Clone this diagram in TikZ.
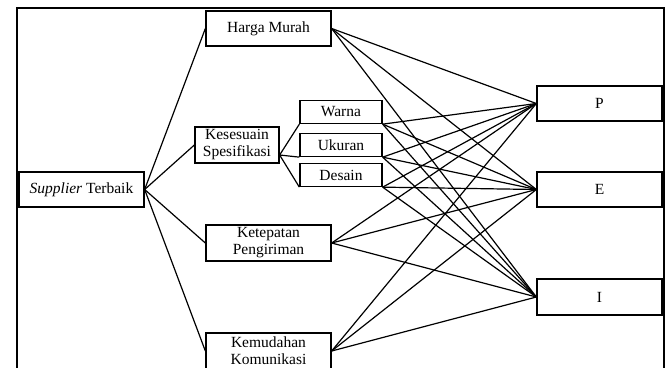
\documentclass[tikz,border=0pt]{standalone}
\usepackage{fontspec}
\setmainfont{Liberation Serif}
\begin{document}
\begin{tikzpicture}[x=1pt,y=-1pt,
  box/.style={draw,line width=1.3pt,inner sep=0pt,align=center,font=\fontsize{15.5}{17}\selectfont},
  big/.style={box,minimum width=125pt,minimum height=35pt},
  small/.style={box,minimum width=82pt,minimum height=23pt},
  conn/.style={line width=1.2pt}]
\useasboundingbox (0,0) rectangle (672,367);
\clip (0,0) rectangle (672,367);
\draw[line width=1.2pt] (17,8) rectangle (664,390);
\node[big] (harga) at (268.5,28.5) {Harga Murah};
\node[box,minimum width=84pt,minimum height=36pt] (kes) at (237,145) {Kesesuain\\Spesifikasi};
\node[small] (warna) at (341,112) {Warna};
\node[small] (ukuran) at (341,145) {Ukuran};
\node[small] (desain) at (341,175) {Desain};
\node[big] (sup) at (81.5,189.5) {\textit{Supplier} Terbaik};
\node[big,minimum height=36pt] (tepat) at (268.5,243) {Ketepatan\\Pengiriman};
\node[big,minimum height=36pt] (mudah) at (268.5,351) {Kemudahan\\Komunikasi};
\node[big] (P) at (599.5,103.5) {P};
\node[big] (E) at (599.5,189.5) {E};
\node[big,minimum height=36pt] (I) at (599.5,297) {I};
\coordinate (kesout) at ([yshift=-10pt]kes.east);
\foreach \t in {harga,kes,tepat,mudah}
  \draw[conn] (sup.east) -- (\t.west);
\foreach \t in {warna,ukuran,desain}
  \draw[conn] (kesout) -- (\t.south west);
\foreach \s in {harga.east,warna.south east,ukuran.south east,desain.south east,tepat.east,mudah.east}
  \foreach \t in {P,E,I}
    \draw[conn] (\s) -- (\t.west);
\end{tikzpicture}
\end{document}
